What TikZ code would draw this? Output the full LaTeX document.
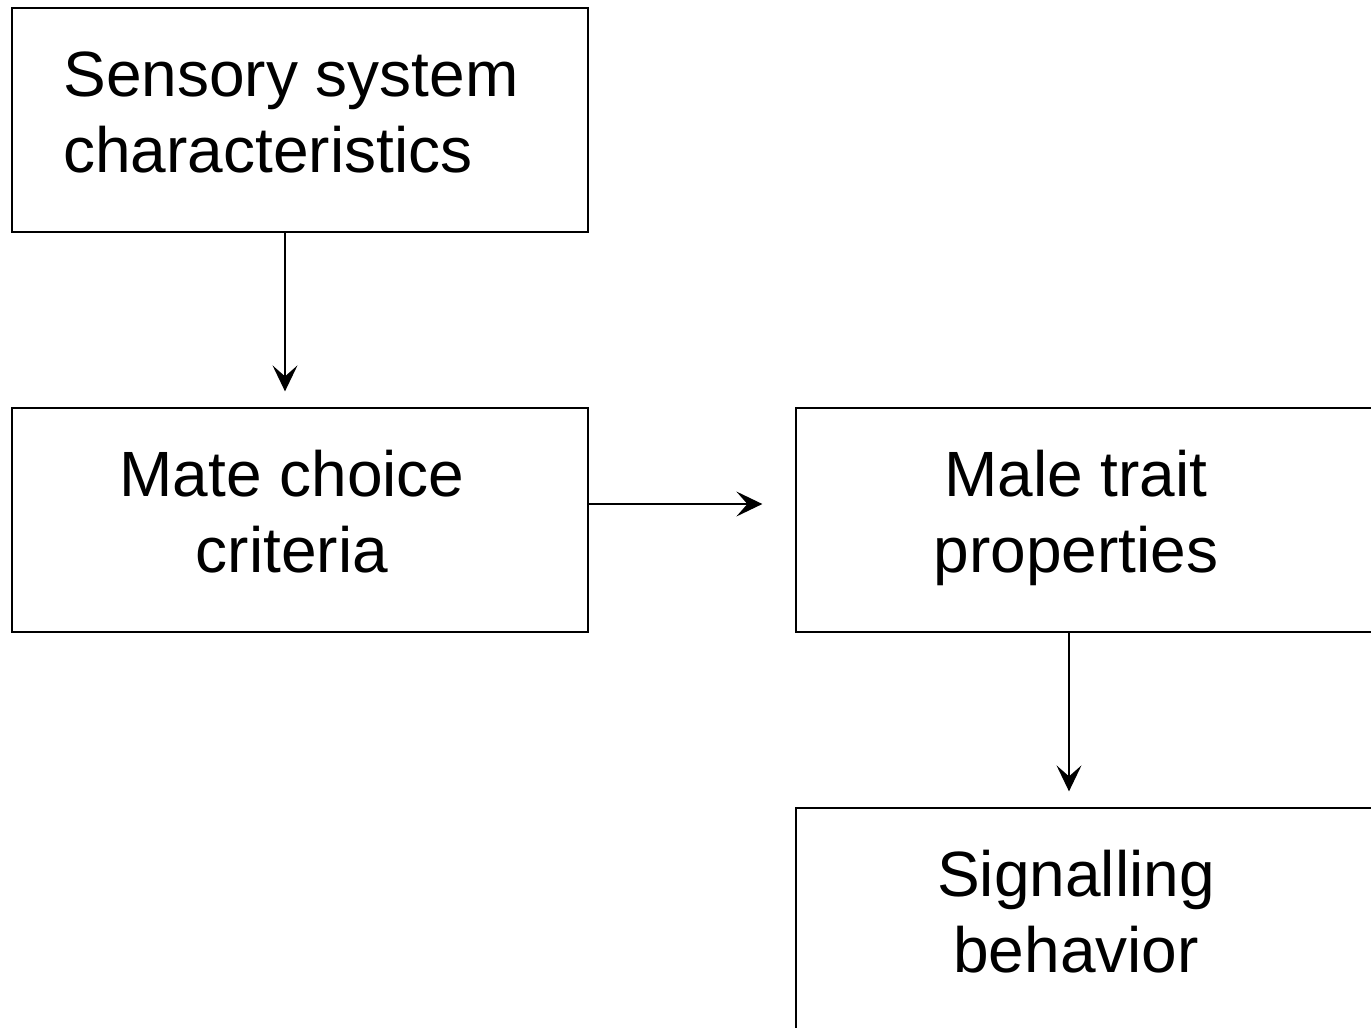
\documentclass[tikz,border=0pt]{standalone}
\usepackage{fontspec}
\setmainfont{Liberation Sans}
\usetikzlibrary{arrows.meta}
\begin{document}
\begin{tikzpicture}[x=1pt,y=-1pt,
  box/.style={draw=black,line width=1.3pt,minimum width=576pt,minimum height=224pt,inner sep=0pt},
  boxtext/.style={font=\fontsize{64}{76}\selectfont,inner sep=0pt},
  link/.style={line width=1.3pt,-{Stealth[length=26pt,width=25pt,inset=11pt]}}]
  \useasboundingbox (0,0) rectangle (1371,1028);
  \clip (0,0) rectangle (1371,1028);
  % boxes
  \node[box] (sens) at (300,120) {};
  \node[box] (mate) at (300,520) {};
  \node[box] (male) at (1084,520) {};
  \node[box] (sig)  at (1084,920) {};
  % labels (struts keep every two-line block the same height)
  \node[boxtext,align=left]   (tsens) at (291,119.5) {\strut Sensory system\\\strut characteristics};
  \node[boxtext,align=center] (tmate) at (292,519.5) {\strut Mate choice\\\strut criteria};
  \node[boxtext,align=center] (tmale) at (1076,519) {\strut Male trait\\\strut properties};
  \node[boxtext,align=center] (tsig)  at (1076,919) {\strut Signalling\\\strut behavior};
  % connectors
  \draw[link,shorten >=16pt] ([xshift=-15pt]sens.south) -- ([xshift=-15pt]mate.north);
  \draw[link,shorten >=33pt] ([yshift=16pt]mate.east) -- ([yshift=16pt]male.west);
  \draw[link,shorten >=16pt] ([xshift=-15pt]male.south) -- ([xshift=-15pt]sig.north);
\end{tikzpicture}
\end{document}
